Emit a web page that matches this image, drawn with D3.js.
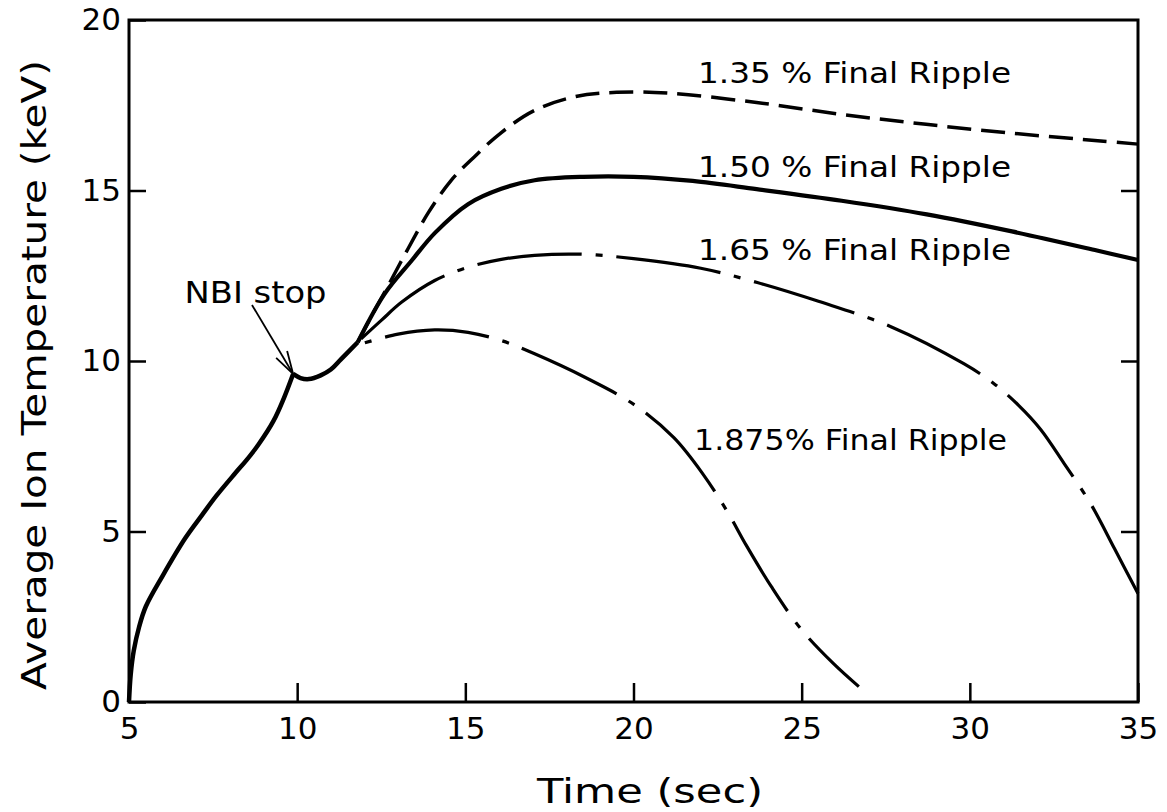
<!DOCTYPE html>
<html>
<head>
<meta charset="utf-8">
<script src="https://cdn.jsdelivr.net/npm/d3@7"></script>
<style>
  body { margin: 0; background: #fff; }
  svg text { font-family: "DejaVu Sans", sans-serif; fill: #000; }
</style>
</head>
<body>
<svg id="chart" width="1167" height="812"></svg>
<script>
// curves: [time (sec), Ti (keV)]
var beforeStop = [[5, 0], [5.05, 0.8], [5.14, 1.5], [5.3, 2.2], [5.5, 2.8], [6.0, 3.7],
  [6.67, 4.8], [7.17, 5.48], [7.6, 6.05], [8.15, 6.7], [8.5, 7.1], [8.85, 7.55],
  [9.3, 8.25], [9.6, 8.9], [9.88, 9.62]];
var afterStop = [[9.88, 9.62], [10.1, 9.5], [10.35, 9.47], [10.7, 9.58], [11.0, 9.75],
  [11.3, 10.05], [11.8, 10.55]];
var ripple135 = [[11.8, 10.55], [12.2, 11.3], [12.7, 12.2], [13.3, 13.3], [13.9, 14.35],
  [14.58, 15.3], [15.28, 16.0], [16.07, 16.7], [17.06, 17.35], [18.25, 17.75],
  [19.5, 17.88], [21.1, 17.85], [23.66, 17.58], [26.2, 17.23], [28.7, 16.94],
  [31.25, 16.68], [33.8, 16.46], [35, 16.36]];
var ripple150 = [[11.8, 10.55], [12.6, 11.97], [13.4, 12.94], [14.09, 13.75], [15.08, 14.6],
  [16.07, 15.05], [17.06, 15.3], [18.5, 15.4], [20.0, 15.4], [21.76, 15.28],
  [23.66, 15.04], [26.19, 14.7], [28.72, 14.3], [31.25, 13.8], [33.78, 13.24], [35, 12.96]];
var ripple165 = [[11.9, 10.65], [12.5, 11.19], [13.1, 11.72], [14.09, 12.36], [15.08, 12.75],
  [16.07, 12.98], [17.06, 13.1], [18.5, 13.13], [20.0, 13.0], [22.0, 12.72],
  [23.68, 12.3], [25.5, 11.75], [27.67, 11.0], [29.82, 9.92], [30.7, 9.35], [31.45, 8.7],
  [32.1, 8.0], [32.8, 7.0], [33.6, 5.8], [34.3, 4.5], [35, 3.18]];
var ripple1875 = [[11.9, 10.5], [13.0, 10.79], [14.09, 10.91], [15.08, 10.84], [16.07, 10.6],
  [17.06, 10.21], [18.54, 9.53], [20.02, 8.72], [21.2, 7.75], [22.06, 6.69],
  [22.81, 5.55], [23.35, 4.6], [24.1, 3.38], [24.97, 2.15], [25.94, 1.13], [26.7, 0.45]];

var xTicks = [5, 10, 15, 20, 25, 30, 35];
var yTicks = [0, 5, 10, 15, 20];
var rippleLabels = ["1.35 % Final Ripple", "1.50 % Final Ripple", "1.65 % Final Ripple", "1.875% Final Ripple"];
var labelAt = [[21.92, 18.15], [21.92, 15.4], [21.92, 12.96], [21.8, 7.39]];
var stopLabel = "NBI stop";
var stopAt = [6.65, 11.7];

var svg = d3.select("#chart");

var x = d3.scaleLinear().domain([5, 35]).range([129, 1138]);
var y = d3.scaleLinear().domain([0, 20]).range([702, 20]);

var line = d3.line()
  .x(function(d) { return x(d[0]) })
  .y(function(d) { return y(d[1]) })
  .curve(d3.curveCatmullRom.alpha(0.5));

// axes, ticks pointing in
var xAxis = svg.append("g")
  .attr("transform", "translate(0," + y(0) + ")")
  .call(d3.axisBottom(x).tickValues(xTicks).tickSize(-19).tickPadding(15));
var yAxis = svg.append("g")
  .attr("transform", "translate(" + x(5) + ",0)")
  .call(d3.axisLeft(y).tickValues(yTicks).tickSize(-17).tickPadding(8));
var yAxisR = svg.append("g")
  .attr("transform", "translate(" + x(35) + ",0)")
  .call(d3.axisRight(y).tickValues([5, 10, 15]).tickSize(-17).tickFormat(""));

svg.selectAll(".domain").remove();
svg.selectAll(".tick line").attr("stroke", "#000").attr("stroke-width", 2.5);
svg.selectAll(".tick text").attr("font-size", 31).attr("fill", "#000");

svg.append("rect")
  .attr("x", x(5)).attr("y", y(20))
  .attr("width", x(35) - x(5)).attr("height", y(0) - y(20))
  .attr("fill", "none").attr("stroke", "#000").attr("stroke-width", 3);

// curves
svg.append("path").datum(beforeStop).attr("d", line)
  .attr("fill", "none").attr("stroke", "#000").attr("stroke-width", 4.5);
svg.append("path").datum(afterStop).attr("d", line)
  .attr("fill", "none").attr("stroke", "#000").attr("stroke-width", 4.5);
svg.append("path").datum(ripple135).attr("d", line)
  .attr("fill", "none").attr("stroke", "#000").attr("stroke-width", 3.5)
  .attr("stroke-dasharray", "24,10");
svg.append("path").datum(ripple150).attr("d", line)
  .attr("fill", "none").attr("stroke", "#000").attr("stroke-width", 4.2);
svg.append("path").datum(ripple165).attr("d", line)
  .attr("fill", "none").attr("stroke", "#000").attr("stroke-width", 3.2)
  .attr("stroke-dasharray", "105,14,7,14");
svg.append("path").datum(ripple1875).attr("d", line)
  .attr("fill", "none").attr("stroke", "#000").attr("stroke-width", 3.2)
  .attr("stroke-dasharray", "7,14,105,14").attr("stroke-dashoffset", -4);

// labels
svg.selectAll(".rlabel")
  .data(rippleLabels)
  .enter()
  .append("text")
  .attr("class", "rlabel")
  .attr("x", function(d, i) { return x(labelAt[i][0]) })
  .attr("y", function(d, i) { return y(labelAt[i][1]) })
  .attr("font-size", 29)
  .attr("textLength", 313)
  .attr("lengthAdjust", "spacingAndGlyphs")
  .text(function(d) { return d });

svg.append("text")
  .attr("x", x(stopAt[0])).attr("y", y(stopAt[1]))
  .attr("font-size", 30)
  .attr("textLength", 142)
  .attr("lengthAdjust", "spacingAndGlyphs")
  .text(stopLabel);

// arrow to the kink
var tip = [x(9.88), y(9.62)];
var tail = [252, 305];
svg.append("line")
  .attr("x1", tail[0]).attr("y1", tail[1]).attr("x2", tip[0]).attr("y2", tip[1])
  .attr("stroke", "#000").attr("stroke-width", 1.8);
svg.append("path")
  .attr("d", "M" + (tip[0] - 17) + "," + (tip[1] - 16) + "L" + tip[0] + "," + tip[1] +
    "L" + (tip[0] - 6) + "," + (tip[1] - 23))
  .attr("fill", "none").attr("stroke", "#000").attr("stroke-width", 1.8);

// axis titles
svg.append("text")
  .attr("x", 650).attr("y", 803)
  .attr("text-anchor", "middle")
  .attr("font-size", 34)
  .attr("textLength", 226)
  .attr("lengthAdjust", "spacingAndGlyphs")
  .text("Time  (sec)");

svg.append("text")
  .attr("transform", "translate(46,375) rotate(-90)")
  .attr("text-anchor", "middle")
  .attr("font-size", 34)
  .attr("textLength", 630)
  .attr("lengthAdjust", "spacingAndGlyphs")
  .text("Average  Ion  Temperature  (keV)");
</script>
</body>
</html>
